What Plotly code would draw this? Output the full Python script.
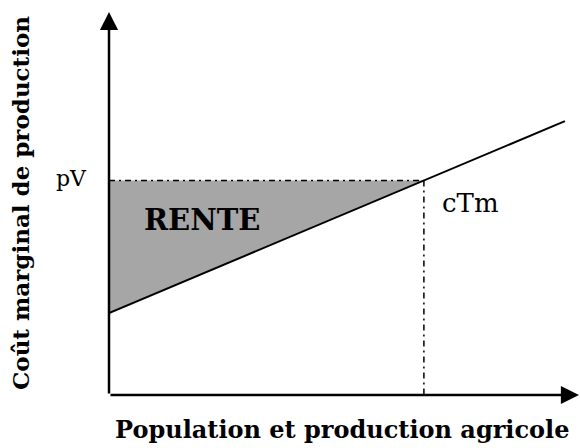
import plotly.graph_objects as go

# Data (arbitrary units)
ctm_x = [0, 97]          # marginal cost line, x ends
ctm_y = [21.4, 71.5]     # marginal cost line, y values
pV = 56                  # price level
q_star = 67              # intersection quantity

x_title = "Population et production agricole"
y_title = "Coût marginal de production"

FONT = "DejaVu Serif"

fig = go.Figure()

# shaded rent triangle
fig.add_trace(go.Scatter(
    x=[0, q_star, 0, 0], y=[pV, pV, ctm_y[0], pV],
    mode="lines", fill="toself", fillcolor="#a6a6a6",
    line=dict(width=0), hoverinfo="skip", showlegend=False))

# dash-dot guides
fig.add_trace(go.Scatter(x=[0, q_star], y=[pV, pV], mode="lines",
                         line=dict(color="black", width=1.5, dash="6px,4px,2px,4px"),
                         showlegend=False, hoverinfo="skip"))
fig.add_trace(go.Scatter(x=[q_star, q_star], y=[pV, 0], mode="lines",
                         line=dict(color="black", width=1.5, dash="6px,4px,2px,4px"),
                         showlegend=False, hoverinfo="skip"))

# marginal cost line
fig.add_trace(go.Scatter(x=ctm_x, y=ctm_y, mode="lines",
                         line=dict(color="black", width=2),
                         showlegend=False, hoverinfo="skip"))

ann = []
# axes arrows
ann.append(dict(x=0, y=100, ax=0, ay=0, xref="x", yref="y", axref="x", ayref="y",
                showarrow=True, arrowhead=2, arrowsize=1.45, arrowwidth=2.5,
                arrowcolor="black", text=""))
ann.append(dict(x=100, y=0, ax=0, ay=0, xref="x", yref="y", axref="x", ayref="y",
                showarrow=True, arrowhead=2, arrowsize=1.45, arrowwidth=2.5,
                arrowcolor="black", text=""))
# labels
ann.append(dict(x=0, y=pV, xref="x", yref="y", text="pV", showarrow=False,
                xanchor="right", yanchor="middle", xshift=-20, yshift=2,
                font=dict(family=FONT, size=22, color="black")))
ann.append(dict(x=70.4, y=50.1, xref="x", yref="y", text="cTm", showarrow=False,
                xanchor="left", yanchor="middle",
                font=dict(family=FONT, size=26, color="black")))
ann.append(dict(x=19.8, y=45.7, xref="x", yref="y", text="<b>RENTE</b>", showarrow=False,
                xanchor="center", yanchor="middle",
                font=dict(family=FONT, size=29, color="black")))
# axis titles
ann.append(dict(x=342, y=448 - 430, xref="paper", yref="paper", text="<b>" + x_title + "</b>",
                showarrow=False, xanchor="center", yanchor="middle",
                font=dict(family=FONT, size=24, color="black")))
ann.append(dict(x=20, y=448 - 203, xref="paper", yref="paper", text="<b>" + y_title + "</b>",
                showarrow=False, xanchor="center", yanchor="middle", textangle=-90,
                font=dict(family=FONT, size=23, color="black")))

# convert pixel-placed title annotations to paper coordinates
L, R, T, B = 109, 1, 12, 53
W, H = 580, 448
pw, ph = W - L - R, H - T - B
for a in ann[-2:]:
    a["x"] = (a["x"] - L) / pw
    a["y"] = (a["y"] - B) / ph

fig.update_layout(
    width=W, height=H,
    margin=dict(l=L, r=R, t=T, b=B),
    paper_bgcolor="white", plot_bgcolor="white",
    xaxis=dict(range=[0, 100], visible=False, fixedrange=True),
    yaxis=dict(range=[0, 100], visible=False, fixedrange=True),
    annotations=ann,
    showlegend=False,
)

fig.write_html("out.html", config={"displayModeBar": False},
               post_script="document.body.style.margin='0';document.body.style.overflow='hidden';")
